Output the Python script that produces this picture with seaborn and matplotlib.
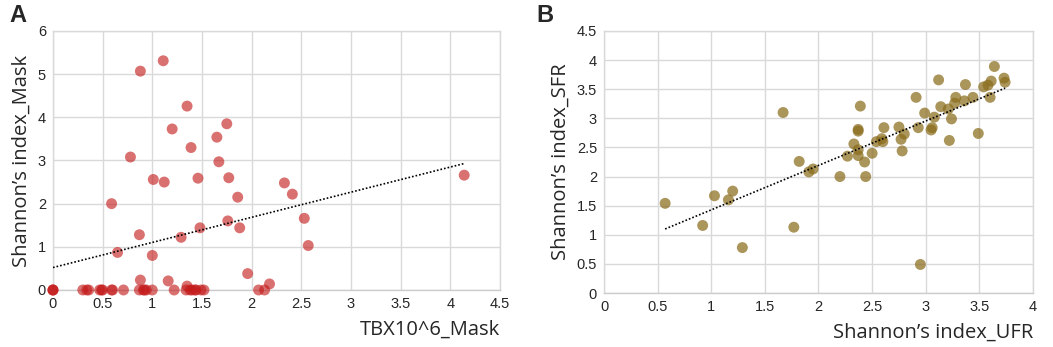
import numpy as np
import pandas as pd
import seaborn as sns
import matplotlib.pyplot as plt

# --- DATA ---
tbx_mask = [0.88, 1.11, 1.35, 1.20, 1.75, 1.65, 1.39, 0.78, 1.67, 1.01, 1.12, 1.46, 1.77,
            2.33, 2.41, 1.86, 0.59, 2.53, 1.76, 1.48, 1.88, 0.87, 1.29, 2.57, 0.65, 1.00,
            1.96, 0.88, 1.16, 2.18, 1.35, 4.14,
            0.0, 0.0, 0.0, 0.30, 0.34, 0.36, 0.47, 0.49, 0.50, 0.59, 0.60, 0.71, 0.87, 0.91,
            0.92, 0.94, 1.00, 1.22, 1.34, 1.38, 1.40, 1.43, 1.44, 1.49, 1.52, 2.07, 2.13]
shannon_mask = [5.07, 5.31, 4.26, 3.73, 3.85, 3.54, 3.30, 3.08, 2.97, 2.56, 2.50, 2.59, 2.60,
                2.48, 2.22, 2.15, 2.00, 1.66, 1.60, 1.44, 1.44, 1.28, 1.22, 1.03, 0.87, 0.80,
                0.38, 0.23, 0.21, 0.14, 0.09, 2.66,
                0, 0, 0, 0, 0, 0, 0, 0, 0, 0, 0, 0, 0, 0,
                0, 0, 0, 0, 0, 0, 0, 0, 0, 0, 0, 0, 0]

shannon_ufr = [0.57, 0.92, 1.03, 1.16, 1.20, 1.29, 1.67, 1.77, 1.82, 1.91, 1.95, 2.20, 2.27,
               2.33, 2.37, 2.37, 2.37, 2.37, 2.39, 2.43, 2.44, 2.50, 2.54, 2.59, 2.60, 2.61,
               2.75, 2.77, 2.78, 2.80, 2.91, 2.93, 2.95, 2.99, 3.05, 3.06, 3.08, 3.12, 3.14,
               3.21, 3.22, 3.24, 3.27, 3.28, 3.37, 3.36, 3.44, 3.49, 3.54, 3.58, 3.60, 3.61,
               3.64, 3.73, 3.74]
shannon_sfr = [1.54, 1.16, 1.67, 1.60, 1.75, 0.78, 3.10, 1.13, 2.26, 2.08, 2.13, 2.00, 2.35,
               2.56, 2.46, 2.36, 2.81, 2.78, 3.21, 2.25, 2.00, 2.40, 2.60, 2.65, 2.60, 2.84,
               2.85, 2.64, 2.44, 2.73, 3.36, 2.84, 0.49, 3.09, 2.80, 2.84, 3.02, 3.66, 3.20,
               3.16, 2.62, 2.99, 3.26, 3.36, 3.58, 3.30, 3.36, 2.74, 3.54, 3.57, 3.36, 3.64,
               3.89, 3.69, 3.62]

# linear trendlines (intercept, slope) as shown in the reference
trend_a = (0.52, 0.582)
trend_b = (0.665, 0.763)

df_a = pd.DataFrame({"x": tbx_mask, "y": shannon_mask})
df_b = pd.DataFrame({"x": shannon_ufr, "y": shannon_sfr})

sns.set_theme(style="whitegrid")
plt.rcParams['font.family'] = ['Liberation Sans', 'DejaVu Sans']

fig = plt.figure(figsize=(10.53, 3.47), dpi=100)
ax_a = fig.add_axes([0.0503, 0.1643, 0.4245, 0.7464])
ax_b = fig.add_axes([0.5736, 0.1556, 0.4074, 0.7551])

def draw_panel(ax, df, trend, color, alpha, xlim, xticks, ylim, yticks, xlabel, ylabel):
    sns.scatterplot(data=df, x="x", y="y", ax=ax, color=color, alpha=alpha,
                    s=62, edgecolor="none", zorder=3, clip_on=False)
    tx = np.array([df["x"].min(), df["x"].max()])
    sns.lineplot(x=tx, y=trend[0] + trend[1] * tx, ax=ax, color="black",
                 linestyle=(0, (1, 1.2)), linewidth=1.2, zorder=4)
    ax.set_xlim(*xlim)
    ax.set_ylim(*ylim)
    ax.set_xticks(xticks)
    ax.set_yticks(yticks)
    ax.set_xticklabels([f"{t:g}" for t in xticks], fontsize=10.5)
    ax.set_yticklabels([f"{t:g}" for t in yticks], fontsize=10.5)
    ax.tick_params(length=0, pad=5)
    ax.grid(True, color="#d9d9d9", linewidth=1)
    for side in ["top", "right", "left"]:
        ax.spines[side].set_color("#d9d9d9")
        ax.spines[side].set_linewidth(1)
    ax.spines["bottom"].set_color("#cccccc")
    ax.spines["bottom"].set_linewidth(1)
    ax.set_xlabel(xlabel, fontsize=14.5, family=["Open Sans", "DejaVu Sans"], loc="right",
                  labelpad=6)
    ax.set_ylabel(ylabel, fontsize=14.5, family=["Open Sans", "DejaVu Sans"], labelpad=4)

draw_panel(ax_a, df_a, trend_a, "#c41a1a", 0.62, (0, 4.5), np.arange(0, 4.51, 0.5),
           (0, 6), np.arange(0, 6.1, 1), "TBX10^6_Mask", "Shannon\u2019s index_Mask")
draw_panel(ax_b, df_b, trend_b, "#8a6c1c", 0.72, (0, 4), np.arange(0, 4.01, 0.5),
           (0, 4.5), np.arange(0, 4.51, 0.5), "Shannon\u2019s index_UFR", "Shannon\u2019s index_SFR")

fig.text(0.009, 0.955, "A", fontsize=17, fontweight="bold", va="center")
fig.text(0.509, 0.955, "B", fontsize=17, fontweight="bold", va="center")

fig.savefig("out.png", dpi=100, facecolor="white")
